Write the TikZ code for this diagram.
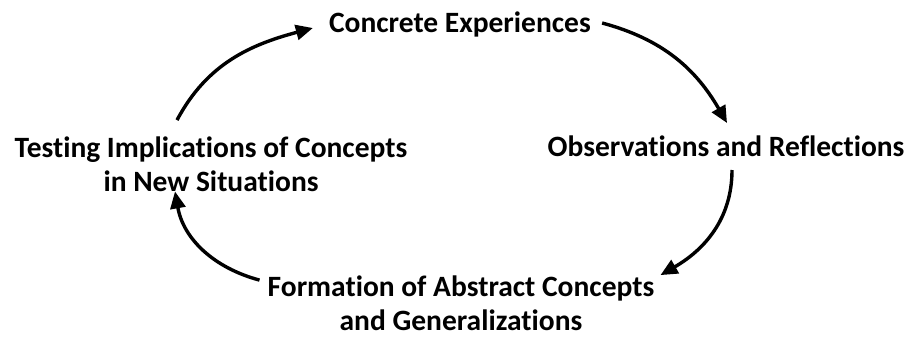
\documentclass[tikz,border=0pt]{standalone}
\usepackage{fontspec}
\setmainfont{Carlito}[Ligatures=NoCommon]
\usetikzlibrary{arrows.meta,calc}
\begin{document}
\begin{tikzpicture}[x=1pt,y=1pt,
  stage/.style={font=\fontsize{29.5}{34}\selectfont\bfseries, inner sep=0pt, align=center, anchor=base},
  cycle/.style={line width=3.4pt, -{Triangle[length=17pt,width=15pt]}}]
\useasboundingbox (0,0) rectangle (912,338);
% the four stages of the learning cycle (base = baseline of the last line)
\node[stage] (top) at (460,305) {Concrete Experiences};
\node[stage] (right) at (726,182) {Observations and Reflections};
\node[stage] (left) at (211,147) {Testing Implications of Concepts\\in New Situations};
\node[stage] (bottom) at (461,8) {Formation of Abstract Concepts\\and Generalizations};
% curved arrows running clockwise between the stages
\draw[cycle] ($(left.north)+(-34,16)$) to[out=62,in=195] ($(top.base west)+(-16,5)$);
\draw[cycle] ($(top.base east)+(11,10)$) to[out=-15,in=120] ($(right.base)+(1,33)$);
\draw[cycle] ($(right.base)+(6,-14)$) to[out=-90,in=30] ($(bottom.north east)+(6,0)$);
\draw[cycle] ($(bottom.north west)+(-8,-5)$) to[out=165,in=-80] ($(left.south)+(-36,0)$);
\end{tikzpicture}
\end{document}
